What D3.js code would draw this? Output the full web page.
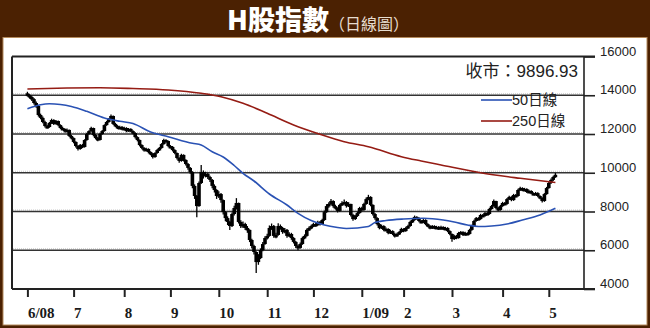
<!DOCTYPE html>
<html>
<head>
<meta charset="utf-8">
<script src="https://cdn.jsdelivr.net/npm/d3@7"></script>
<style>
  body { margin: 0; background: #fff; }
  svg { display: block; }
</style>
</head>
<body>
<svg id="chart" width="650" height="328"></svg>
<script>
// H-share index, daily bars from June 2008 to early May 2009 (trading-day index 0..240)
const monthTicks  = [0, 21, 44, 65, 87, 109, 130, 152, 171, 193, 216, 237];
const monthLabels = ["6/08", "7", "8", "9", "10", "11", "12", "1/09", "2", "3", "4", "5"];
const yTicks = [4000, 6000, 8000, 10000, 12000, 14000, 16000];
const gridValues = [6000, 8000, 10000, 12000, 14000];

const firstOpen = 14100;
const closes = [
  14010,13910,13800,13600,13450,12980,12830,12620,12410,12360,
  12570,12720,12520,12670,12460,12310,12260,12150,12210,11900,
  11790,11590,11380,11230,11430,11330,11690,12000,12150,12310,
  11950,11790,11690,12000,12150,12460,12620,12770,12930,12520,
  12410,12310,12360,12260,12310,12150,12260,12150,12050,11840,
  11690,11430,11280,11170,11230,11070,10970,10810,11020,11170,
  11280,11480,11690,11640,11380,11330,11170,11020,10760,10610,
  10920,10660,10450,10250,10040,9320,8800,8280,9470,10040,
  9830,9940,9780,9630,9320,9110,8800,8900,8590,7970,
  7660,7460,7250,7870,8180,8440,7460,7250,7350,7150,
  7050,6530,6220,5910,5390,5600,6010,6320,6630,6740,
  7150,7250,6740,6790,7250,7150,6940,7050,6740,6840,
  6630,6430,6220,6120,6320,6630,6740,7050,7150,7250,
  7350,7300,7460,7350,7560,7970,8280,8390,8540,8280,
  8180,8030,8340,8440,8490,8280,8390,7820,7610,7770,
  7920,8180,8080,8390,8640,8750,8340,7870,7660,7350,
  7150,7250,7050,7100,6890,6990,6840,6740,6840,6940,
  7100,6990,7150,7250,7460,7560,7720,7660,7510,7460,
  7560,7350,7250,7150,7250,7150,7200,7100,7200,7100,
  7150,6990,6840,6580,6740,6630,6890,6940,6790,6890,
  6840,7050,7250,7510,7660,7610,7820,7770,7920,7870,
  8130,8280,8540,8180,8080,8280,8440,8390,8640,8750,
  8590,8850,8800,9110,9210,9110,9160,9010,9060,8950,
  8900,8950,8800,8700,8540,8900,9210,9470,9630,9780,
  9896.93
];
const highs = [
  14180,14060,13980,13860,13680,13480,13050,12900,12680,12480,
  12620,12790,12760,12720,12700,12500,12380,12300,12290,12230,
  11960,11830,11620,11420,11480,11490,11730,12060,12200,12380,
  12330,12000,11850,12050,12210,12500,12680,12830,13010,12950,
  12580,12460,12430,12410,12370,12350,12310,12300,12200,12090,
  11880,11720,11470,11330,11290,11260,11110,11020,11060,11220,
  11330,11530,11760,11730,11670,11430,11380,11210,11050,10800,
  10980,10950,10700,10500,10300,10080,9400,8850,9550,10400,
  10120,10050,10000,9850,9680,9400,9150,9050,8950,8620,
  8020,7750,7520,7950,8300,8690,8460,7550,7480,7420,
  7250,7080,6600,6280,5950,5800,6100,6420,6720,6850,
  7280,7380,7300,6900,7400,7330,7200,7150,7100,6930,
  6900,6680,6480,6280,6400,6700,6820,7120,7230,7320,
  7420,7400,7520,7510,7620,8050,8380,8480,8650,8580,
  8350,8220,8400,8530,8620,8540,8480,8400,7880,7830,
  7990,8240,8250,8450,8720,8860,8790,8370,7920,7700,
  7400,7320,7290,7180,7130,7060,7030,6900,6900,7000,
  7160,7140,7210,7310,7520,7630,7790,7760,7700,7560,
  7610,7600,7400,7300,7300,7290,7260,7250,7260,7240,
  7210,7190,7030,6870,6800,6790,6950,7000,6980,6950,
  6930,7110,7310,7570,7720,7710,7880,7870,7980,7970,
  8190,8340,8620,8560,8230,8340,8500,8490,8700,8810,
  8790,8910,8900,9170,9280,9250,9220,9200,9120,9100,
  8990,9010,8990,8840,8740,8950,9270,9520,9700,9840,
  9990
];
const lows = [
  13930,13820,13700,13520,13350,12900,12760,12560,12330,12280,
  12320,12520,12470,12480,12400,12250,12200,12080,12100,11840,
  11720,11520,11300,11150,11190,11270,11300,11650,11960,12110,
  11880,11720,11620,11660,11960,12120,12420,12580,12730,12460,
  12350,12250,12270,12200,12210,12090,12110,12090,11990,11770,
  11620,11360,11210,11100,11120,11000,10900,10740,10770,10980,
  11120,11240,11440,11580,11310,11260,11100,10950,10680,10520,
  10570,10580,10370,10160,9950,9200,8650,7700,8250,9420,
  9700,9760,9680,9520,9200,8980,8650,8700,8450,7850,
  7500,7300,7050,7200,7800,8100,7380,7150,7150,7050,
  6900,6420,6100,5780,4830,5250,5550,5950,6280,6550,
  6700,7050,6650,6620,6750,7060,6850,6880,6650,6680,
  6540,6350,6120,6000,6080,6280,6570,6700,6990,7080,
  7190,7220,7250,7280,7300,7520,7930,8200,8330,8200,
  8100,7950,7990,8290,8380,8200,8230,7740,7520,7560,
  7720,7880,8000,8040,8350,8580,8270,7800,7580,7280,
  7080,7100,6980,6990,6820,6840,6780,6660,6700,6790,
  6900,6930,6950,7100,7210,7410,7520,7600,7450,7400,
  7410,7290,7190,7090,7100,7090,7100,7040,7060,7040,
  7050,6930,6780,6440,6530,6570,6600,6840,6730,6750,
  6780,6800,7010,7210,7470,7550,7570,7710,7730,7810,
  7830,8090,8240,8110,8010,8040,8240,8330,8350,8600,
  8530,8550,8740,8760,9070,9050,9060,8950,8970,8890,
  8840,8850,8740,8630,8460,8500,8860,9170,9420,9580,
  9740
];

// 50-day moving average, read at selected trading days
const ma50Days = [0,6,10,15,20,27,35,42,48,56,64,75,79,84,89,94,98,103,110,118,
                  123,129,135,141,145,155,158,163,171,180,189,194,200,205,211,218,225,233,240];
const ma50 = [13305,13512,13560,13523,13420,13170,12826,12655,12542,12100,
              11860,11520,11432,11085,10813,10374,9972,9574,8903,8335,
              7907,7535,7303,7174,7122,7226,7432,7535,7613,7649,
              7561,7458,7303,7226,7252,7355,7561,7819,8165];

// 250-day moving average
const ma250Days = [0,18,33,48,64,79,88,98,109,121,133,144,155,170,179,188,206,224,240];
const ma250 = [14323,14374,14390,14348,14271,14100,13925,13585,13068,12465,
               11985,11603,11345,10830,10607,10400,9997,9713,9497];

const legendNames = ["50日線", "250日線"];
const legendColors = ["#2a52b4", "#951c14"];

const W = 650, H = 328;
const svg = d3.select("#chart");
const sans = "'Liberation Sans', Arial, 'Noto Sans CJK TC', sans-serif";
const serif = "'Liberation Serif', 'Times New Roman', serif";

// frame and title bar
svg.append("rect").attr("width", W).attr("height", H).attr("fill", "#4b2102");
svg.append("rect").attr("x", 3).attr("y", 37.5).attr("width", W - 6).attr("height", H - 40.5)
  .attr("fill", "#fff").attr("stroke", "#b48a5c").attr("stroke-width", 1);

const title = svg.append("text").attr("x", 227).attr("y", 30)
  .attr("font-family", "'Noto Sans CJK TC', sans-serif");
title.append("tspan").text("H股指數").attr("font-size", 27).attr("font-weight", 900).attr("fill", "#fff");
title.append("tspan").text("（日線圖）").attr("font-size", 16).attr("font-weight", 400).attr("fill", "#e6dccf");

// scales
const x = d3.scaleLinear().domain([-7, 253]).range([12, 584]);
const y = d3.scaleLinear().domain([4000, 16000]).range([289, 56.5]);

// gridlines
const grid = svg.append("g");
grid.selectAll("line.shade").data(gridValues).join("line")
  .attr("x1", 13).attr("x2", 584)
  .attr("y1", d => y(d) - 1.5).attr("y2", d => y(d) - 1.5)
  .attr("stroke", "#c8c8c8").attr("stroke-width", 1).attr("stroke-dasharray", "1,1");
grid.selectAll("line.main").data(gridValues).join("line")
  .attr("x1", 12).attr("x2", 584)
  .attr("y1", d => y(d)).attr("y2", d => y(d))
  .attr("stroke", "#333").attr("stroke-width", 1.4);

// right value axis
const yAxis = svg.append("g").attr("transform", "translate(584,0)")
  .call(d3.axisRight(y).tickValues(yTicks).tickSize(11).tickPadding(5).tickFormat(d3.format("d")));
yAxis.select(".domain").remove();
yAxis.selectAll(".tick line").attr("stroke", "#222").attr("stroke-width", 1.6);
yAxis.selectAll(".tick text").attr("font-family", sans).attr("font-size", 13)
  .attr("fill", "#222").attr("dy", "-0.1em");

// bottom month axis
const xAxis = svg.append("g").attr("transform", "translate(0,289)")
  .call(d3.axisBottom(x).tickValues(monthTicks).tickSize(8).tickFormat((d, i) => monthLabels[i]));
xAxis.select(".domain").remove();
xAxis.selectAll(".tick line").attr("stroke", "#222").attr("stroke-width", 2);
xAxis.selectAll(".tick text").attr("font-family", serif).attr("font-size", 15)
  .attr("font-weight", 700).attr("fill", "#1a1a1a")
  .attr("text-anchor", "start").attr("x", 0).attr("y", 29).attr("dy", 0);

// plot frame
const frame = svg.append("g").attr("stroke", "#222").attr("fill", "none");
frame.append("line").attr("x1", 12).attr("x2", 595).attr("y1", y(16000)).attr("y2", y(16000)).attr("stroke-width", 2);
frame.append("line").attr("x1", 12).attr("x2", 12).attr("y1", y(16000)).attr("y2", y(4000)).attr("stroke-width", 2);
frame.append("line").attr("x1", 12).attr("x2", 595).attr("y1", y(4000)).attr("y2", y(4000)).attr("stroke-width", 2);
frame.append("line").attr("x1", 584).attr("x2", 584).attr("y1", y(16000)).attr("y2", y(4000)).attr("stroke-width", 1.6);

// daily bars
const bars = closes.map((c, i) => ({
  i, close: c, open: i === 0 ? firstOpen : closes[i - 1], high: highs[i], low: lows[i]
}));
const barG = svg.append("g");
barG.selectAll("line").data(bars).join("line")
  .attr("x1", d => x(d.i)).attr("x2", d => x(d.i))
  .attr("y1", d => y(d.high)).attr("y2", d => y(d.low))
  .attr("stroke", "#000").attr("stroke-width", 1.3);
barG.selectAll("rect").data(bars).join("rect")
  .attr("x", d => x(d.i) - 1.8).attr("width", 3.6)
  .attr("y", d => y(Math.max(d.open, d.close)))
  .attr("height", d => Math.max(2.5, Math.abs(y(d.open) - y(d.close))))
  .attr("fill", "#000");

// moving averages
const maLine = d3.line().x(d => x(d[0])).y(d => y(d[1])).curve(d3.curveMonotoneX);
svg.append("path").datum(ma250Days.map((d, k) => [d, ma250[k]]))
  .attr("d", maLine).attr("fill", "none").attr("stroke", legendColors[1]).attr("stroke-width", 1.6);
svg.append("path").datum(ma50Days.map((d, k) => [d, ma50[k]]))
  .attr("d", maLine).attr("fill", "none").attr("stroke", legendColors[0]).attr("stroke-width", 1.6);

// closing value
svg.append("text").attr("x", 578).attr("y", 77).attr("text-anchor", "end")
  .attr("font-family", sans).attr("font-size", 17).attr("fill", "#222")
  .text("收市：" + d3.format(".2f")(closes[closes.length - 1]));

// legend
const legend = svg.append("g");
legendNames.forEach((name, k) => {
  const ly = 100 + k * 21;
  legend.append("line").attr("x1", 481).attr("x2", 512).attr("y1", ly).attr("y2", ly)
    .attr("stroke", legendColors[k]).attr("stroke-width", 1.6);
  legend.append("text").attr("x", 512).attr("y", ly + 5).attr("font-family", sans)
    .attr("font-size", 14.5).attr("fill", "#222").text(name);
});
</script>
</body>
</html>
